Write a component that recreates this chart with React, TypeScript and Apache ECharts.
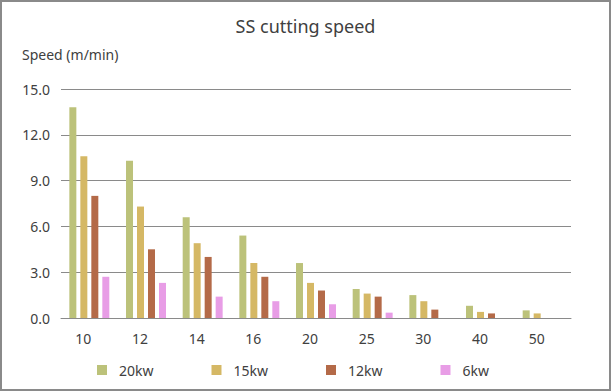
import React, { useEffect, useRef } from "react";
import * as echarts from "echarts";

const categories = ["10", "12", "14", "16", "20", "25", "30", "40", "50"];
const s20kw = [13.8, 10.3, 6.6, 5.4, 3.6, 1.9, 1.5, 0.8, 0.5];
const s15kw = [10.6, 7.3, 4.9, 3.6, 2.3, 1.6, 1.1, 0.4, 0.3];
const s12kw = [8.0, 4.5, 4.0, 2.7, 1.8, 1.4, 0.55, 0.3, null];
const s6kw = [2.7, 2.3, 1.4, 1.1, 0.9, 0.35, null, null, null];
const seriesNames = ["20kw", "15kw", "12kw", "6kw"];
const colors = ["#BCC27A", "#D5B865", "#B46A48", "#E89DE6"];

const FONT = "Noto Sans";

export default function App() {
  const ref = useRef<HTMLDivElement>(null);
  useEffect(() => {
    if (!ref.current) return;
    const chart = echarts.init(ref.current, undefined, { renderer: "svg" });
    const data = [s20kw, s15kw, s12kw, s6kw];
    chart.setOption({
      animation: false,
      backgroundColor: "#ffffff",
      textStyle: { fontFamily: FONT },
      title: {
        text: "SS cutting speed",
        left: "center",
        top: 12,
        textStyle: { fontFamily: FONT, fontSize: 18, fontWeight: "normal", color: "#404040" },
      },
      graphic: [
        {
          type: "rect",
          shape: { x: 1, y: 1, width: 609, height: 389 },
          style: { fill: "none", stroke: "#8a8a8a", lineWidth: 2 },
          silent: true,
        },
        {
          type: "text",
          left: 22,
          top: 47,
          style: { text: "Speed (m/min)", fill: "#404040", font: `14px "${FONT}"` },
        },
      ],
      legend: {
        left: 92,
        top: 358,
        itemWidth: 10,
        itemHeight: 10,
        itemGap: 58,
        icon: "rect",
        textStyle: { fontFamily: FONT, fontSize: 14, color: "#404040", padding: [0, 0, 0, 7] },
        data: seriesNames,
      },
      grid: { left: 61, right: 40, top: 89, bottom: 74 },
      xAxis: {
        type: "category",
        data: categories,
        axisTick: { show: false },
        axisLine: { lineStyle: { color: "#8a8a8a", width: 1 } },
        axisLabel: {
          fontFamily: FONT,
          fontSize: 14,
          color: "#404040",
          margin: 13,
          padding: [0, 12, 0, 0],
        },
      },
      yAxis: {
        type: "value",
        min: 0,
        max: 15,
        interval: 3,
        axisLine: { show: false },
        axisTick: { show: false },
        axisLabel: {
          fontFamily: FONT,
          fontSize: 14,
          color: "#404040",
          margin: 11,
          formatter: (v: number) => v.toFixed(1),
        },
        splitLine: { lineStyle: { color: "#8a8a8a", width: 1 } },
      },
      series: seriesNames.map((name, i) => ({
        name,
        type: "bar",
        data: data[i],
        barWidth: 7,
        barGap: "57%",
        itemStyle: { color: colors[i] },
      })),
    });
    return () => chart.dispose();
  }, []);
  return (
    <div
      ref={ref}
      style={{ position: "absolute", left: 0, top: 0, width: 611, height: 392 }}
    />
  );
}
